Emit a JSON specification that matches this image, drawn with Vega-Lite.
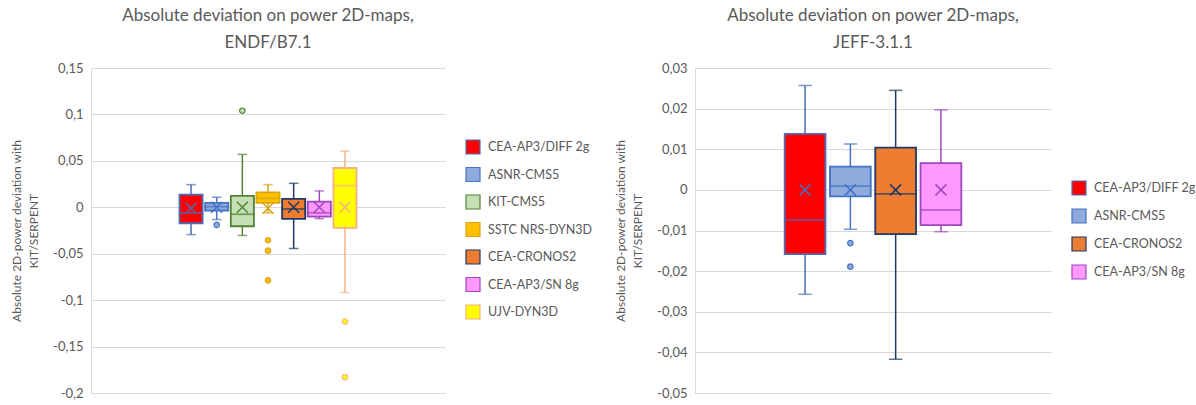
{
  "$schema": "https://vega.github.io/schema/vega-lite/v6.json",
  "padding": {"left": 10, "top": 7, "right": 0, "bottom": 5},
  "background": "white",
  "bounds": "flush",
  "spacing": 250,
  "config": {
    "view": {"stroke": null},
    "font": "Lato",
    "axisY": {
      "grid": true, "gridColor": "#D9D9D9", "gridWidth": 1,
      "domain": true, "domainColor": "#D9D9D9", "ticks": false,
      "labelPadding": 8, "labelColor": "#595959", "labelFont": "Lato", "labelFontSize": 13,
      "titleColor": "#595959", "titleFont": "Lato", "titleFontSize": 12, "titleFontWeight": "normal",
      "titleLineHeight": 17, "titlePadding": 12
    },
    "legend": {
      "labelColor": "#595959", "labelFont": "Lato", "labelFontSize": 12.5, "labelOffset": 7,
      "symbolType": "square", "symbolSize": 196, "symbolStrokeWidth": 1.2, "symbolOpacity": 1, "rowPadding": 7.5
    },
    "title": {"font": "Lato", "fontSize": 17, "fontWeight": "normal", "color": "#595959", "lineHeight": 27, "offset": 10, "anchor": "middle"}
  },
  "datasets": {
    "left": [
      {"series": "CEA-AP3/DIFF 2g", "min": -0.0294, "q1": -0.0172, "med": -0.006, "q3": 0.0137, "max": 0.0244, "mean": -0.001},
      {"series": "ASNR-CMS5", "min": -0.0132, "q1": -0.0036, "med": 0.0007, "q3": 0.0047, "max": 0.0108, "mean": 0},
      {"series": "KIT-CMS5", "min": -0.0304, "q1": -0.0204, "med": -0.0075, "q3": 0.0122, "max": 0.057, "mean": 0},
      {"series": "SSTC NRS-DYN3D", "min": -0.006, "q1": 0.0047, "med": 0.0097, "q3": 0.0161, "max": 0.0244, "mean": -0.001},
      {"series": "CEA-CRONOS2", "min": -0.0444, "q1": -0.0125, "med": -0.0018, "q3": 0.009, "max": 0.0258, "mean": 0},
      {"series": "CEA-AP3/SN 8g", "min": -0.0122, "q1": -0.01, "med": -0.006, "q3": 0.0061, "max": 0.0176, "mean": 0},
      {"series": "UJV-DYN3D", "min": -0.0917, "q1": -0.0222, "med": 0.0233, "q3": 0.0423, "max": 0.0606, "mean": 0}
    ],
    "leftOut": [
      {"series": "ASNR-CMS5", "value": -0.019},
      {"series": "KIT-CMS5", "value": 0.104},
      {"series": "SSTC NRS-DYN3D", "value": -0.0355},
      {"series": "SSTC NRS-DYN3D", "value": -0.0466},
      {"series": "SSTC NRS-DYN3D", "value": -0.0788},
      {"series": "UJV-DYN3D", "value": -0.123},
      {"series": "UJV-DYN3D", "value": -0.183}
    ],
    "right": [
      {"series": "CEA-AP3/DIFF 2g", "min": -0.0257, "q1": -0.0158, "med": -0.0074, "q3": 0.0138, "max": 0.0257, "mean": 0},
      {"series": "ASNR-CMS5", "min": -0.0097, "q1": -0.0016, "med": 0.0009, "q3": 0.0057, "max": 0.0113, "mean": 0},
      {"series": "CEA-CRONOS2", "min": -0.0417, "q1": -0.0109, "med": -0.001, "q3": 0.0104, "max": 0.0245, "mean": 0},
      {"series": "CEA-AP3/SN 8g", "min": -0.0103, "q1": -0.0087, "med": -0.0049, "q3": 0.0066, "max": 0.0197, "mean": 0}
    ],
    "rightOut": [
      {"series": "ASNR-CMS5", "value": -0.0131},
      {"series": "ASNR-CMS5", "value": -0.0189}
    ]
  },
  "hconcat": [
    {
      "width": 354, "height": 325,
      "title": {"text": ["Absolute deviation on power 2D-maps,", "ENDF/B7.1"]},
      "data": {"name": "left"},
      "layer": [
        {
          "mark": {"type": "rule", "strokeWidth": 1.5},
          "encoding": {
            "x": {"field": "series", "type": "nominal", "axis": null, "scale": {"domain": ["_a", "_b", "_c", "CEA-AP3/DIFF 2g", "ASNR-CMS5", "KIT-CMS5", "SSTC NRS-DYN3D", "CEA-CRONOS2", "CEA-AP3/SN 8g", "UJV-DYN3D", "_d", "_e", "_f"], "paddingInner": 0.1, "paddingOuter": 0.45}},
            "y": {"field": "min", "type": "quantitative", "scale": {"domain": [-0.2, 0.15], "nice": false, "zero": false},
              "axis": {"title": ["Absolute 2D-power deviation with", "KIT/SERPENT"], "values": [-0.2, -0.15, -0.1, -0.05, 0, 0.05, 0.1, 0.15],
                "labelExpr": "replace(replace(format(datum.value, '~g'), '.', ','), '\u2212', '-')"}},
            "y2": {"field": "max"},
            "stroke": {"field": "series", "type": "nominal", "legend": {"title": null, "orient": "none", "legendX": 374, "legendY": 71}, "scale": {"domain": ["CEA-AP3/DIFF 2g", "ASNR-CMS5", "KIT-CMS5", "SSTC NRS-DYN3D", "CEA-CRONOS2", "CEA-AP3/SN 8g", "UJV-DYN3D"], "range": ["#4A6DB5", "#4472C4", "#548235", "#D9A514", "#203864", "#9E48C0", "#F4B183"]}}
          }
        },
        {
          "mark": {"type": "tick", "size": 8, "thickness": 0.01, "filled": false, "strokeWidth": 1.5},
          "encoding": {
            "x": {"field": "series", "type": "nominal"},
            "y": {"field": "min", "type": "quantitative"},
            "stroke": {"field": "series", "type": "nominal", "legend": {"title": null, "orient": "none", "legendX": 374, "legendY": 71}}
          }
        },
        {
          "mark": {"type": "tick", "size": 8, "thickness": 0.01, "filled": false, "strokeWidth": 1.5},
          "encoding": {
            "x": {"field": "series", "type": "nominal"},
            "y": {"field": "max", "type": "quantitative"},
            "stroke": {"field": "series", "type": "nominal", "legend": {"title": null, "orient": "none", "legendX": 374, "legendY": 71}}
          }
        },
        {
          "mark": {"type": "bar", "strokeWidth": 1.8},
          "encoding": {
            "x": {"field": "series", "type": "nominal"},
            "y": {"field": "q1", "type": "quantitative"},
            "y2": {"field": "q3"},
            "fill": {"field": "series", "type": "nominal", "scale": {"domain": ["CEA-AP3/DIFF 2g", "ASNR-CMS5", "KIT-CMS5", "SSTC NRS-DYN3D", "CEA-CRONOS2", "CEA-AP3/SN 8g", "UJV-DYN3D"], "range": ["#FF0000", "#8FAADC", "#C5E0B4", "#FFC000", "#ED7D31", "#FF99FF", "#FFFF00"]},
              "legend": {"title": null, "orient": "none", "legendX": 374, "legendY": 71}},
            "stroke": {"field": "series", "type": "nominal", "legend": {"title": null, "orient": "none", "legendX": 374, "legendY": 71}}
          }
        },
        {
          "mark": {"type": "tick", "size": 23, "thickness": 0.01, "filled": false, "strokeWidth": 1.8},
          "encoding": {
            "x": {"field": "series", "type": "nominal"},
            "y": {"field": "med", "type": "quantitative"},
            "stroke": {"field": "series", "type": "nominal", "legend": {"title": null, "orient": "none", "legendX": 374, "legendY": 71}}
          }
        },
        {
          "mark": {"type": "point", "shape": "M-1,-1L1,1M-1,1L1,-1", "filled": false, "size": 121, "strokeWidth": 1.5, "opacity": 1},
          "encoding": {
            "x": {"field": "series", "type": "nominal"},
            "y": {"field": "mean", "type": "quantitative"},
            "stroke": {"field": "series", "type": "nominal", "legend": {"title": null, "orient": "none", "legendX": 374, "legendY": 71}}
          }
        },
        {
          "data": {"name": "leftOut"},
          "mark": {"type": "point", "shape": "circle", "filled": true, "size": 30, "strokeWidth": 1.2, "opacity": 1},
          "encoding": {
            "x": {"field": "series", "type": "nominal"},
            "y": {"field": "value", "type": "quantitative"},
            "fill": {"field": "series", "type": "nominal", "legend": {"title": null, "orient": "none", "legendX": 374, "legendY": 71}},
            "stroke": {"field": "series", "type": "nominal", "legend": {"title": null, "orient": "none", "legendX": 374, "legendY": 71}}
          }
        }
      ]
    },
    {
      "width": 356, "height": 325,
      "title": {"text": ["Absolute deviation on power 2D-maps,", "JEFF-3.1.1"]},
      "data": {"name": "right"},
      "layer": [
        {
          "mark": {"type": "rule", "strokeWidth": 1.5},
          "encoding": {
            "x": {"field": "series", "type": "nominal", "axis": null, "scale": {"domain": ["_a", "CEA-AP3/DIFF 2g", "ASNR-CMS5", "CEA-CRONOS2", "CEA-AP3/SN 8g", "_b"], "paddingInner": 0.1, "paddingOuter": 0.98}},
            "y": {"field": "min", "type": "quantitative", "scale": {"domain": [-0.05, 0.03], "nice": false, "zero": false},
              "axis": {"title": ["Absolute 2D-power deviation with", "KIT/SERPENT"], "values": [-0.05, -0.04, -0.03, -0.02, -0.01, 0, 0.01, 0.02, 0.03],
                "labelExpr": "replace(replace(format(datum.value, '~g'), '.', ','), '\u2212', '-')"}},
            "y2": {"field": "max"},
            "stroke": {"field": "series", "type": "nominal", "legend": {"title": null, "orient": "none", "legendX": 376, "legendY": 112, "rowPadding": 8}, "scale": {"domain": ["CEA-AP3/DIFF 2g", "ASNR-CMS5", "CEA-CRONOS2", "CEA-AP3/SN 8g"], "range": ["#4A6DB5", "#4472C4", "#203864", "#9E48C0"]}}
          }
        },
        {
          "mark": {"type": "tick", "size": 12, "thickness": 0.01, "filled": false, "strokeWidth": 1.5},
          "encoding": {
            "x": {"field": "series", "type": "nominal"},
            "y": {"field": "min", "type": "quantitative"},
            "stroke": {"field": "series", "type": "nominal", "legend": {"title": null, "orient": "none", "legendX": 376, "legendY": 112, "rowPadding": 8}}
          }
        },
        {
          "mark": {"type": "tick", "size": 12, "thickness": 0.01, "filled": false, "strokeWidth": 1.5},
          "encoding": {
            "x": {"field": "series", "type": "nominal"},
            "y": {"field": "max", "type": "quantitative"},
            "stroke": {"field": "series", "type": "nominal", "legend": {"title": null, "orient": "none", "legendX": 376, "legendY": 112, "rowPadding": 8}}
          }
        },
        {
          "mark": {"type": "bar", "strokeWidth": 1.8},
          "encoding": {
            "x": {"field": "series", "type": "nominal"},
            "y": {"field": "q1", "type": "quantitative"},
            "y2": {"field": "q3"},
            "fill": {"field": "series", "type": "nominal", "scale": {"domain": ["CEA-AP3/DIFF 2g", "ASNR-CMS5", "CEA-CRONOS2", "CEA-AP3/SN 8g"], "range": ["#FF0000", "#8FAADC", "#ED7D31", "#FF99FF"]},
              "legend": {"title": null, "orient": "none", "legendX": 376, "legendY": 112, "rowPadding": 8}},
            "stroke": {"field": "series", "type": "nominal", "legend": {"title": null, "orient": "none", "legendX": 376, "legendY": 112, "rowPadding": 8}}
          }
        },
        {
          "mark": {"type": "tick", "size": 40.5, "thickness": 0.01, "filled": false, "strokeWidth": 1.8},
          "encoding": {
            "x": {"field": "series", "type": "nominal"},
            "y": {"field": "med", "type": "quantitative"},
            "stroke": {"field": "series", "type": "nominal", "legend": {"title": null, "orient": "none", "legendX": 376, "legendY": 112, "rowPadding": 8}}
          }
        },
        {
          "mark": {"type": "point", "shape": "M-1,-1L1,1M-1,1L1,-1", "filled": false, "size": 121, "strokeWidth": 1.5, "opacity": 1},
          "encoding": {
            "x": {"field": "series", "type": "nominal"},
            "y": {"field": "mean", "type": "quantitative"},
            "stroke": {"field": "series", "type": "nominal", "legend": {"title": null, "orient": "none", "legendX": 376, "legendY": 112, "rowPadding": 8}}
          }
        },
        {
          "data": {"name": "rightOut"},
          "mark": {"type": "point", "shape": "circle", "filled": true, "size": 30, "strokeWidth": 1.2, "opacity": 1},
          "encoding": {
            "x": {"field": "series", "type": "nominal"},
            "y": {"field": "value", "type": "quantitative"},
            "fill": {"field": "series", "type": "nominal", "legend": {"title": null, "orient": "none", "legendX": 376, "legendY": 112, "rowPadding": 8}},
            "stroke": {"field": "series", "type": "nominal", "legend": {"title": null, "orient": "none", "legendX": 376, "legendY": 112, "rowPadding": 8}}
          }
        }
      ]
    }
  ],
  "resolve": {"scale": {"fill": "independent", "stroke": "independent", "y": "independent", "x": "independent"}, "legend": {"fill": "independent", "stroke": "independent"}}
}
